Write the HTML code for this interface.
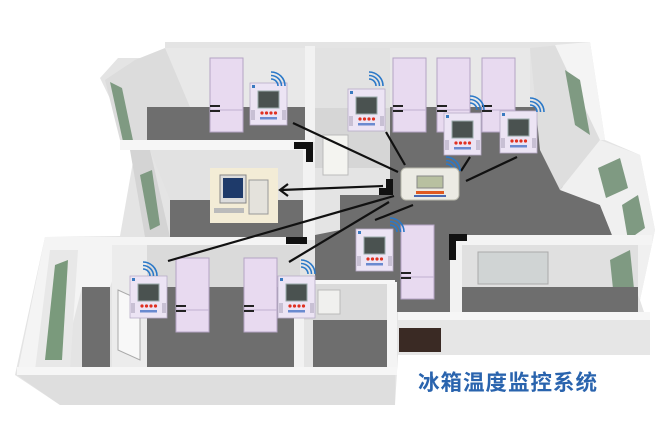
<!DOCTYPE html>
<html><head><meta charset="utf-8"><style>
html,body{margin:0;padding:0;background:#fff;width:668px;height:424px;overflow:hidden}
svg{display:block}
</style></head><body>
<svg width="668" height="424" viewBox="0 0 668 424" xmlns="http://www.w3.org/2000/svg">
<defs>
<g id="mon">
 <rect x="0" y="0" width="37" height="42" fill="#ece4f4" stroke="#b8acc8" stroke-width="0.8"/>
 <rect x="8" y="8" width="21" height="17" fill="#4a5250" stroke="#9aa" stroke-width="1"/>
 <rect x="1" y="27" width="4" height="10" fill="#c8c0d4"/>
 <rect x="32" y="27" width="4" height="10" fill="#c8c0d4"/>
 <circle cx="12" cy="30" r="1.6" fill="#e03020"/><circle cx="16.5" cy="30" r="1.6" fill="#e03020"/><circle cx="21" cy="30" r="1.6" fill="#e03020"/><circle cx="25.5" cy="30" r="1.6" fill="#e03020"/>
 <rect x="10" y="34" width="17" height="2.5" fill="#6a8ad0"/>
 <rect x="2" y="2" width="3" height="3" fill="#3a7ac0"/>
</g>
<g id="wifi" fill="none" stroke="#2a78c8" stroke-width="1.6">
 <path d="M0 7 A7 7 0 0 1 7 14"/><path d="M0 3.5 A10.5 10.5 0 0 1 10.5 14"/><path d="M0 0 A14 14 0 0 1 14 14"/>
</g>
<g id="fr">
 <rect x="0" y="0" width="33" height="74" fill="#e8daf0" stroke="#b4a4c4" stroke-width="1"/>
 <line x1="0" y1="52" x2="33" y2="52" stroke="#c0b0d0"/>
 <rect x="0" y="47" width="10" height="2" fill="#222"/><rect x="0" y="52" width="10" height="2" fill="#222"/>
</g>
</defs>

<!-- house base -->
<polygon points="165,42 590,42 605,140 640,155 655,230 640,300 650,330 650,355 398,355 395,405 60,405 15,375 45,237 120,236 135,150 100,78 118,58 165,58" fill="#e4e4e4"/>
<!-- top-left room -->
<polygon points="165,48 305,48 305,107 165,107" fill="#e8e8e8"/>
<polygon points="135,60 165,48 190,107 147,107 147,140 120,140 105,80" fill="#dcdcdc"/>
<polygon points="110,82 122,88 135,150 124,146" fill="#7f9a82"/>
<rect x="147" y="107" width="160" height="33" fill="#6e6e6e"/>
<rect x="305" y="46" width="10" height="96" fill="#f2f2f2"/>
<!-- corridor top -->
<rect x="315" y="48" width="75" height="60" fill="#e2e2e2"/>
<rect x="315" y="108" width="75" height="60" fill="#d6d6d6"/>
<rect x="323" y="135" width="25" height="40" fill="#f4f4f0" stroke="#bbb"/>
<!-- top right back wall -->
<rect x="390" y="48" width="140" height="60" fill="#e8e8e8"/>
<!-- central floor -->
<polygon points="390,107 535,107 545,140 560,185 600,205 612,235 450,235 450,312 315,312 315,235 340,230 340,195 390,195" fill="#6e6e6e"/>
<!-- right wall block -->
<polygon points="530,48 560,45 600,140 560,190 540,150" fill="#dedede"/>
<polygon points="555,45 590,42 605,140 600,140" fill="#f4f4f4"/>
<polygon points="565,70 580,80 590,135 575,125" fill="#7f9a82"/>
<polygon points="560,190 600,140 640,155 655,230 640,300 612,235 600,205" fill="#f0f0f0"/>
<polygon points="598,168 620,158 628,188 606,198" fill="#7f9a82"/>
<polygon points="622,205 638,195 645,228 628,240" fill="#7f9a82"/>
<!-- left middle room -->
<rect x="120" y="140" width="192" height="10" fill="#f6f6f6"/>
<polygon points="150,150 305,150 305,200 170,200" fill="#e2e2e2"/>
<polygon points="130,150 150,150 170,237 145,237" fill="#d4d4d4"/>
<polygon points="140,175 152,170 160,225 150,230" fill="#7f9a82"/>
<rect x="170" y="200" width="133" height="37" fill="#6e6e6e"/>
<rect x="303" y="150" width="12" height="90" fill="#f2f2f2"/>
<!-- bottom left rooms -->
<polygon points="45,237 300,237 300,245 125,245 110,287 82,287 60,375 17,375" fill="#f4f4f4"/>
<rect x="125" y="245" width="175" height="42" fill="#dadada"/>
<polygon points="50,250 78,250 70,370 35,370" fill="#e8e8e8"/>
<polygon points="55,265 68,260 62,360 45,360" fill="#7a9a7c"/>
<polygon points="82,287 110,287 110,367 82,367" fill="#6e6e6e"/>
<rect x="112" y="245" width="35" height="122" fill="#ececec"/>
<polygon points="118,290 140,300 140,360 118,350" fill="#f8f8f8" stroke="#aaa"/>
<rect x="147" y="287" width="147" height="80" fill="#6e6e6e"/>
<rect x="294" y="282" width="10" height="85" fill="#f2f2f2"/>
<rect x="304" y="282" width="90" height="38" fill="#dadada"/>
<rect x="318" y="290" width="22" height="24" fill="#f0f0ee" stroke="#bbb"/>
<rect x="313" y="320" width="74" height="47" fill="#6e6e6e"/>
<rect x="387" y="282" width="10" height="85" fill="#f4f4f4"/>
<rect x="300" y="280" width="95" height="4" fill="#f6f6f6"/>
<!-- bottom right room -->
<rect x="452" y="235" width="200" height="10" fill="#f4f4f4"/>
<rect x="462" y="245" width="176" height="42" fill="#e0e0e0"/>
<rect x="478" y="252" width="70" height="32" fill="#d0d4d4" stroke="#aaa"/>
<polygon points="610,260 630,250 636,308 615,308" fill="#7f9a82"/>
<rect x="462" y="287" width="176" height="25" fill="#6e6e6e"/>
<rect x="450" y="245" width="12" height="70" fill="#f2f2f2"/>
<!-- front faces -->
<rect x="17" y="367" width="380" height="8" fill="#f6f6f6"/>
<polygon points="17,375 395,375 395,405 60,405" fill="#dedede"/>
<rect x="398" y="312" width="252" height="8" fill="#f6f6f6"/>
<rect x="398" y="320" width="252" height="35" fill="#e6e6e6"/>
<rect x="399" y="328" width="42" height="24" fill="#3a2a24"/>

<!-- black markers -->
<path d="M294,142 h19 v20 h-7 v-13 h-12 z" fill="#111"/>
<path d="M386,179 h7 v16 h-14 v-7 h7 z" fill="#111"/>
<rect x="286" y="237" width="21" height="7" fill="#111"/>
<path d="M449,234 h18 v7 h-11 v19 h-7 z" fill="#111"/>

<!-- fridges -->
<use href="#fr" x="210" y="58"/>
<use href="#fr" x="393" y="58"/>
<use href="#fr" x="437" y="58"/>
<use href="#fr" x="482" y="58"/>
<use href="#fr" x="401" y="225"/>
<use href="#fr" x="176" y="258"/>
<use href="#fr" x="244" y="258"/>

<!-- lines -->
<g stroke="#111" stroke-width="2.2" fill="none">
<line x1="293" y1="123" x2="398" y2="172"/>
<line x1="386" y1="132" x2="405" y2="165"/>
<line x1="470" y1="157" x2="461" y2="171"/>
<line x1="517" y1="157" x2="466" y2="181"/>
<line x1="383" y1="186" x2="281" y2="190"/>
<path d="M288,184 L280,190 L288,196"/>
<line x1="394" y1="196" x2="168" y2="261"/>
<line x1="389" y1="202" x2="289" y2="262"/>
<line x1="413" y1="205" x2="375" y2="220"/>
</g>

<!-- monitors -->
<use href="#mon" x="250" y="83"/><use href="#wifi" x="271" y="72"/>
<use href="#mon" x="348" y="89"/><use href="#wifi" x="369" y="72"/>
<use href="#mon" x="444" y="113"/><use href="#wifi" x="470" y="96"/>
<use href="#mon" x="500" y="111"/><use href="#wifi" x="530" y="98"/>
<use href="#mon" x="356" y="229"/><use href="#wifi" x="390" y="218"/>
<use href="#mon" x="130" y="276"/><use href="#wifi" x="143" y="262"/>
<use href="#mon" x="278" y="276"/><use href="#wifi" x="301" y="260"/>

<!-- hub -->
<use href="#wifi" x="446" y="157"/>
<rect x="401" y="168" width="58" height="32" rx="5" fill="#ecebe4" stroke="#b8b8ac"/>
<rect x="417" y="176" width="26" height="12" fill="#b8c0a0" stroke="#888"/>
<rect x="416" y="191" width="28" height="3" fill="#e05a20"/>
<rect x="414" y="195" width="32" height="2" fill="#4a6ab0"/>

<!-- computer -->
<rect x="210" y="168" width="68" height="55" fill="#f3ecd6"/>
<rect x="220" y="175" width="26" height="28" fill="#dcdcdc" stroke="#888"/>
<rect x="223" y="178" width="20" height="20" fill="#1e3a6a"/>
<rect x="249" y="180" width="19" height="34" fill="#e4e2dc" stroke="#999"/>
<rect x="214" y="208" width="30" height="5" fill="#bbb"/>

<text x="418" y="390" font-family="'Liberation Sans','Noto Sans CJK SC',sans-serif" font-size="21.5" font-weight="bold" fill="#2a64ae" letter-spacing="1">冰箱温度监控系统</text>
</svg>
</body></html>
